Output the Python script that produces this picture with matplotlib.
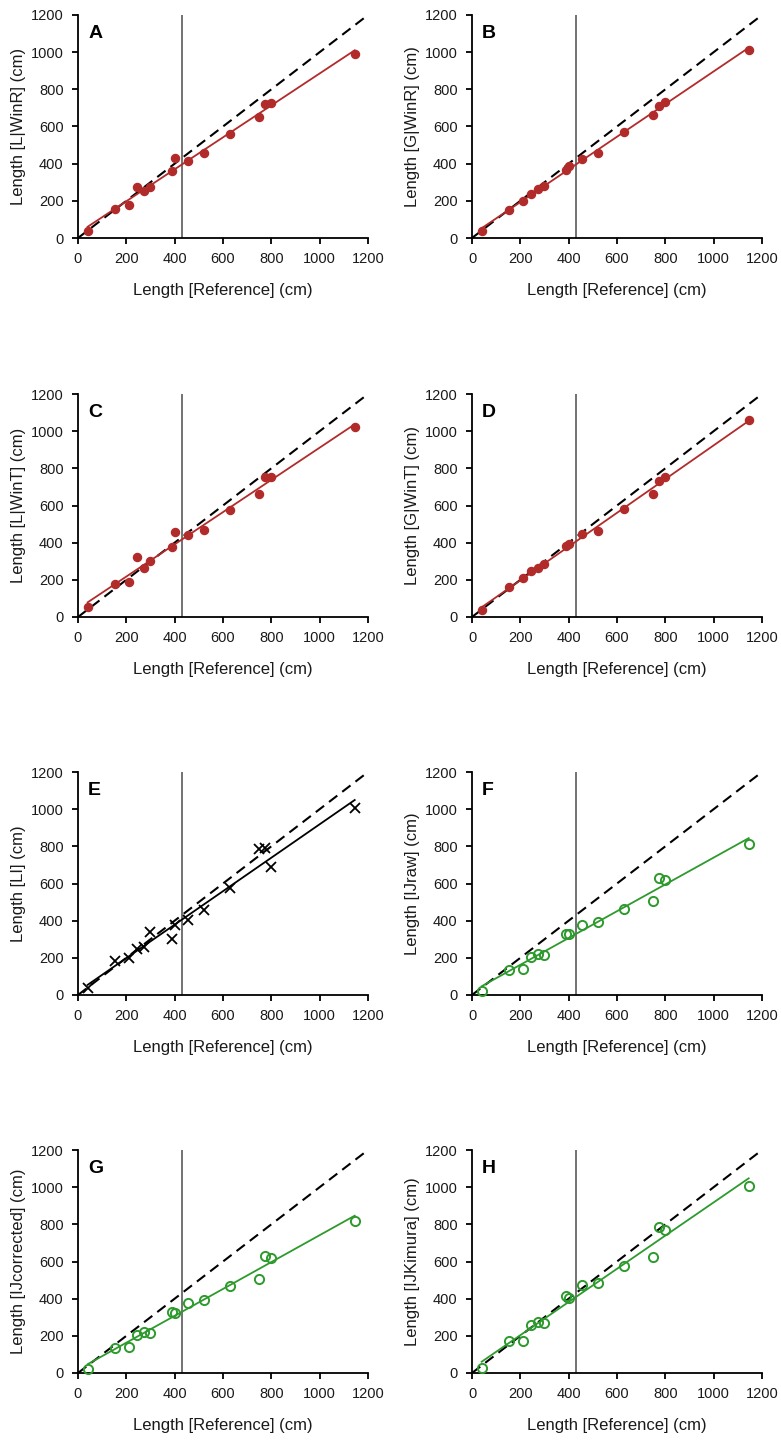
import numpy as np
import matplotlib
matplotlib.use("Agg")
import matplotlib.pyplot as plt

plt.rcParams["font.family"] = ["Liberation Sans", "DejaVu Sans"]

# reference lengths (cm), shared by every panel
ref_len = [40, 155, 212, 245, 275, 298, 390, 400, 455, 520, 630, 750, 775, 800, 1145]

L_WinR = [40, 155, 178, 273, 255, 275, 358, 428, 415, 457, 562, 653, 722, 725, 988]
G_WinR = [36, 151, 201, 237, 261, 281, 367, 387, 426, 459, 572, 662, 711, 732, 1012]
L_WinT = [54, 175, 187, 324, 265, 301, 375, 458, 440, 467, 577, 661, 753, 751, 1023]
G_WinT = [36, 159, 211, 247, 265, 283, 380, 395, 447, 465, 582, 663, 730, 753, 1059]
LI = [38, 185, 198, 245, 258, 338, 304, 378, 406, 460, 577, 785, 792, 690, 1007]
IJraw = [22, 137, 140, 203, 219, 214, 329, 326, 374, 392, 464, 504, 631, 619, 813]
IJcorrected = [22, 137, 142, 205, 219, 217, 329, 323, 377, 393, 467, 505, 630, 621, 817]
IJKimura = [25, 171, 174, 257, 275, 269, 413, 404, 471, 483, 577, 625, 787, 767, 1008]

panel_letters = ["A", "B", "C", "D", "E", "F", "G", "H"]
y_labels = ["Length [L|WinR] (cm)", "Length [G|WinR] (cm)",
            "Length [L|WinT] (cm)", "Length [G|WinT] (cm)",
            "Length [LI] (cm)", "Length [IJraw] (cm)",
            "Length [IJcorrected] (cm)", "Length [IJKimura] (cm)"]
series = [L_WinR, G_WinR, L_WinT, G_WinT, LI, IJraw, IJcorrected, IJKimura]
cutoff = 430

red = "#b22b2b"
green = "#2e9a2e"
styles = [
    dict(color=red, marker="o", filled=True),
    dict(color=red, marker="o", filled=True),
    dict(color=red, marker="o", filled=True),
    dict(color=red, marker="o", filled=True),
    dict(color="black", marker="x", filled=True),
    dict(color=green, marker="o", filled=False),
    dict(color=green, marker="o", filled=False),
    dict(color=green, marker="o", filled=False),
]

W, H = 781, 1443
fig = plt.figure(figsize=(W / 100, H / 100), dpi=100)

col_left = [78, 472]
row_top = [15, 394, 772, 1150]
ax_w, ax_h = 290, 223
text_col = "#1a1a1a"

x = np.array(ref_len, dtype=float)
for i, (yv, st) in enumerate(zip(series, styles)):
    r, c = divmod(i, 2)
    ax = fig.add_axes([col_left[c] / W, 1 - (row_top[r] + ax_h) / H, ax_w / W, ax_h / H])
    y = np.array(yv, dtype=float)

    ax.plot([0, 1200], [0, 1200], ls=(0, (5, 3)), color="black", lw=1.5, zorder=2)
    ax.axvline(cutoff, color="#5a5a5a", lw=1.2, zorder=1)

    slope, icpt = np.polyfit(x, y, 1)
    xf = np.array([x.min(), x.max()])
    ax.plot(xf, icpt + slope * xf, color=st["color"], lw=1.3, zorder=3)

    if st["marker"] == "x":
        ax.plot(x, y, ls="none", marker="x", ms=7.5, mew=1.3, color="black",
                zorder=4, clip_on=False)
    elif st["filled"]:
        ax.plot(x, y, ls="none", marker="o", ms=5.8, color=st["color"],
                zorder=4, clip_on=False)
    else:
        ax.plot(x, y, ls="none", marker="o", ms=6.6, mfc="none", mew=1.4,
                mec=st["color"], zorder=4, clip_on=False)

    ax.set_xlim(0, 1200)
    ax.set_ylim(0, 1200)
    ticks = np.arange(0, 1201, 200)
    ax.set_xticks(ticks)
    ax.set_yticks(ticks)
    for s in ["top", "right"]:
        ax.spines[s].set_visible(False)
    for s in ["left", "bottom"]:
        ax.spines[s].set_linewidth(1.3)
    ax.tick_params(direction="out", length=4.3, width=1.3, labelsize=10.5,
                   labelcolor=text_col, pad=6)
    ax.set_xlabel("Length [Reference] (cm)", fontsize=12, color=text_col)
    ax.set_ylabel(y_labels[i], fontsize=12, color=text_col)
    ax.xaxis.set_label_coords(0.5, -0.2)
    ax.yaxis.set_label_coords(-0.18, 0.5)
    ax.text(0.035, 0.915, panel_letters[i], transform=ax.transAxes,
            fontsize=14, fontweight="bold", va="center", ha="left")

fig.savefig("out.png", dpi=100)
